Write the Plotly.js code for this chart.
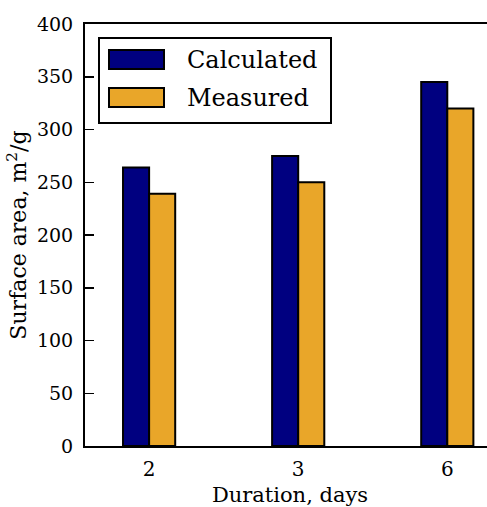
<!DOCTYPE html>
<html>
<head>
<meta charset="utf-8">
<script src="https://cdn.plot.ly/plotly-3.0.1.min.js"></script>
<style>html,body{margin:0;padding:0;overflow:hidden;background:#fff;}</style>
</head>
<body>
<div id="chart"></div>
<script>
// Data
const categories = ['2', '3', '6'];
const calculated = [264, 275, 345];
const measured = [239, 250, 320];
const seriesNames = ['Calculated', 'Measured'];
const yTicks = [0, 50, 100, 150, 200, 250, 300, 350, 400];

const NAVY = '#000080';
const ORANGE = '#E9A629';
const FONT = 'DejaVu Serif, serif';

// plot area in pixels
const L = 85, T = 24, W = 410, H = 422;
const px = x => (x - L) / W;
const py = y => (T + H - y) / H;

const traces = [
  {type: 'bar', x: categories, y: calculated, name: seriesNames[0],
   marker: {color: NAVY, line: {color: '#000', width: 2}}, showlegend: false, hoverinfo: 'skip'},
  {type: 'bar', x: categories, y: measured, name: seriesNames[1],
   marker: {color: ORANGE, line: {color: '#000', width: 2}}, showlegend: false, hoverinfo: 'skip'}
];

const shapes = [
  {type: 'rect', xref: 'paper', yref: 'paper', x0: px(99), x1: px(331), y0: py(123), y1: py(38),
   line: {color: '#000', width: 2}, fillcolor: '#fff', layer: 'above'},
  {type: 'rect', xref: 'paper', yref: 'paper', x0: px(109), x1: px(164), y0: py(69), y1: py(50),
   line: {color: '#000', width: 2}, fillcolor: NAVY, layer: 'above'},
  {type: 'rect', xref: 'paper', yref: 'paper', x0: px(109), x1: px(164), y0: py(107), y1: py(88),
   line: {color: '#000', width: 2}, fillcolor: ORANGE, layer: 'above'}
];

const annotations = [
  {xref: 'paper', yref: 'paper', x: px(185), y: py(60), xanchor: 'left', yanchor: 'middle',
   text: seriesNames[0], showarrow: false, font: {family: FONT, size: 24, color: '#000'}},
  {xref: 'paper', yref: 'paper', x: px(185), y: py(98), xanchor: 'left', yanchor: 'middle',
   text: seriesNames[1], showarrow: false, font: {family: FONT, size: 24, color: '#000'}}
];

const layout = {
  width: 520, height: 507,
  margin: {l: L, r: 520 - L - W, t: T, b: 507 - T - H, pad: 0},
  paper_bgcolor: '#fff', plot_bgcolor: '#fff',
  barmode: 'group', bargap: 0.65, bargroupgap: 0,
  font: {family: FONT, size: 19, color: '#000'},
  xaxis: {
    type: 'category', range: [-0.43, 2.32],
    showline: true, linecolor: '#000', linewidth: 2, mirror: true,
    ticks: '', showgrid: false, zeroline: false,
    tickfont: {family: FONT, size: 20, color: '#000'},
    ticklabelstandoff: 4,
    title: {text: 'Duration, days', font: {family: FONT, size: 21, color: '#000'}, standoff: 26}
  },
  yaxis: {
    range: [0, 400], tickvals: yTicks, ticktext: yTicks.map(String),
    showline: true, linecolor: '#000', linewidth: 2, mirror: true,
    ticks: 'inside', ticklen: 9, tickwidth: 1.5, tickcolor: '#000',
    showgrid: false, zeroline: false,
    tickfont: {family: FONT, size: 19, color: '#000'},
    ticklabelstandoff: 6,
    title: {text: 'Surface area, m<sup>2</sup>/g', font: {family: FONT, size: 22, color: '#000'}, standoff: 4}
  },
  shapes: shapes,
  annotations: annotations
};

Plotly.newPlot('chart', traces, layout, {displayModeBar: false, staticPlot: true});
</script>
</body>
</html>
